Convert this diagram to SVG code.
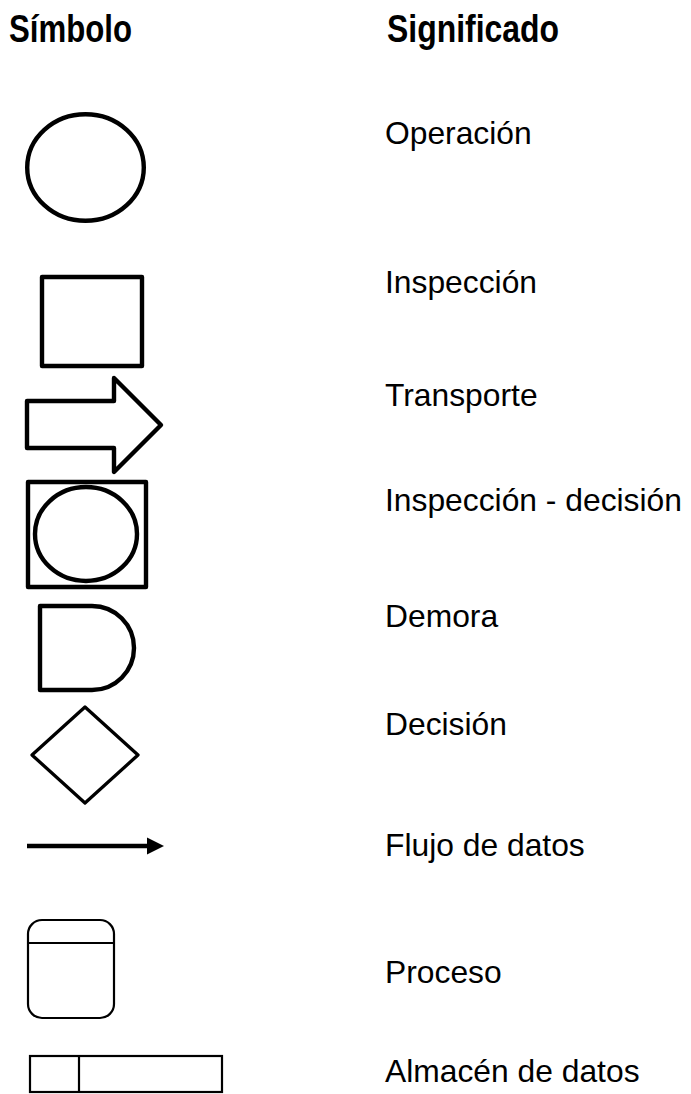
<svg xmlns="http://www.w3.org/2000/svg" width="691" height="1094" viewBox="0 0 691 1094">
  <style>
    .hdr { font-family: "Liberation Sans", Arial, sans-serif; font-weight: bold; font-size: 38px; fill: #000; }
    .lbl { font-family: "Liberation Sans", Arial, sans-serif; font-size: 31.8px; fill: #000; }
    .thick { fill: #fff; stroke: #000; stroke-width: 4.4; stroke-linejoin: round; }
    .thin { fill: #fff; stroke: #000; stroke-width: 2.2; stroke-linejoin: round; }
  </style>
  <rect width="691" height="1094" fill="#fff"/>

  <!-- column headings -->
  <g id="headings">
    <text class="hdr" x="9" y="42" textLength="123" lengthAdjust="spacingAndGlyphs">Símbolo</text>
    <text class="hdr" x="387" y="42" textLength="172" lengthAdjust="spacingAndGlyphs">Significado</text>
  </g>

  <!-- operation: circle -->
  <g id="operacion">
    <ellipse class="thick" cx="85.5" cy="167.5" rx="58.3" ry="53.3"/>
    <text class="lbl" x="385" y="144">Operación</text>
  </g>

  <!-- inspection: square -->
  <g id="inspeccion">
    <rect class="thick" x="42" y="277" width="100" height="89"/>
    <text class="lbl" x="385" y="293">Inspección</text>
  </g>

  <!-- transport: block arrow -->
  <g id="transporte">
    <polygon class="thick" points="27,401 114,401 114,378 161,425 114,472 114,448 27,448"/>
    <text class="lbl" x="385" y="406">Transporte</text>
  </g>

  <!-- inspection-decision: circle inside square -->
  <g id="inspeccion-decision">
    <rect class="thick" x="28" y="482" width="118" height="105"/>
    <ellipse class="thick" cx="86" cy="534" rx="51" ry="47"/>
    <text class="lbl" x="385" y="511">Inspección - decisión</text>
  </g>

  <!-- delay: D shape -->
  <g id="demora">
    <path class="thick" d="M40,606 H92 A42,42 0 0 1 92,690 H40 Z"/>
    <text class="lbl" x="385" y="627">Demora</text>
  </g>

  <!-- decision: diamond -->
  <g id="decision">
    <polygon class="thin" points="85,707 138,755 85,803 32,755" style="stroke-width:3.3"/>
    <text class="lbl" x="385" y="735">Decisión</text>
  </g>

  <!-- data flow: plain arrow -->
  <g id="flujo">
    <line x1="27" y1="846" x2="149" y2="846" stroke="#000" stroke-width="4.5"/>
    <polygon points="147,837.5 164,846 147,854.5" fill="#000"/>
    <text class="lbl" x="385" y="856">Flujo de datos</text>
  </g>

  <!-- process: rounded box with header band -->
  <g id="proceso">
    <rect class="thin" x="28" y="920" width="86" height="98" rx="14" ry="14"/>
    <line x1="28" y1="943" x2="114" y2="943" stroke="#000" stroke-width="2.2"/>
    <text class="lbl" x="385" y="983">Proceso</text>
  </g>

  <!-- data store: split bar -->
  <g id="almacen">
    <rect class="thin" x="30" y="1056" width="192" height="36" style="stroke-linejoin:miter"/>
    <line x1="79" y1="1056" x2="79" y2="1092" stroke="#000" stroke-width="2.2"/>
    <text class="lbl" x="385" y="1082">Almacén de datos</text>
  </g>
</svg>
